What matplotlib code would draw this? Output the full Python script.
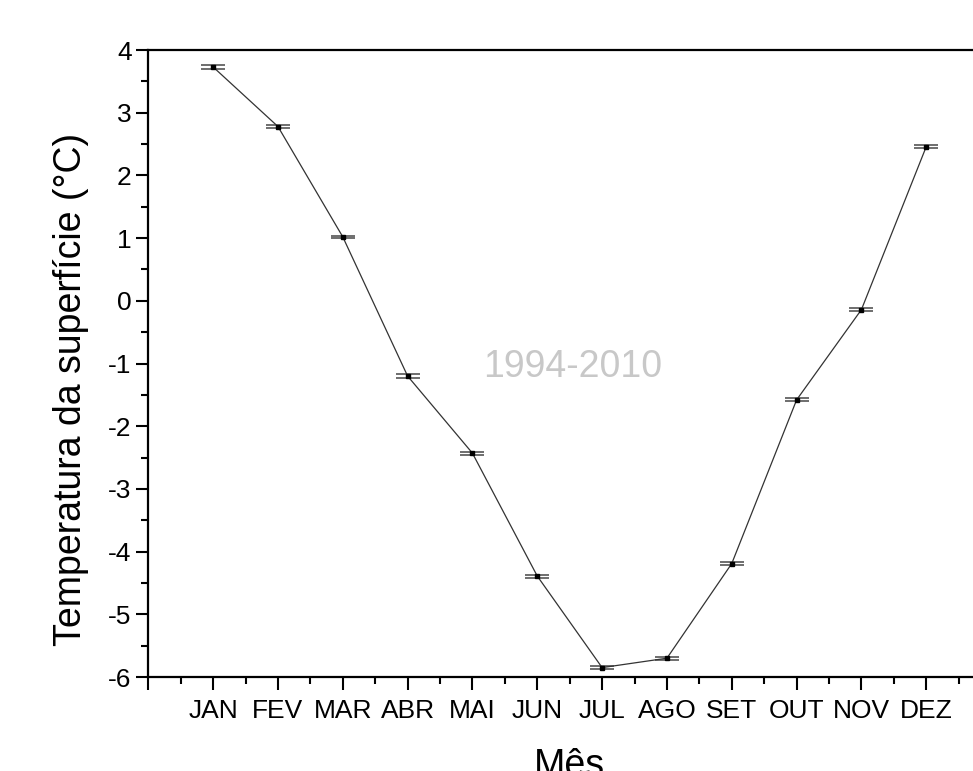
import matplotlib
matplotlib.use("Agg")
import matplotlib.pyplot as plt
from matplotlib.ticker import MultipleLocator

plt.rcParams['font.family'] = ['Liberation Sans', 'DejaVu Sans']
plt.rcParams['axes.unicode_minus'] = False

# Temperatura média mensal da superfície (1994-2010)
meses = ['JAN', 'FEV', 'MAR', 'ABR', 'MAI', 'JUN', 'JUL', 'AGO', 'SET', 'OUT', 'NOV', 'DEZ']
posicoes = [1, 2, 3, 4, 5, 6, 7, 8, 9, 10, 11, 12]
temperatura = [3.73, 2.78, 1.02, -1.20, -2.43, -4.39, -5.85, -5.70, -4.19, -1.58, -0.14, 2.46]
erro = [0.025, 0.025, 0.02, 0.025, 0.025, 0.025, 0.025, 0.025, 0.025, 0.025, 0.025, 0.025]

fig = plt.figure(figsize=(9.73, 7.71), dpi=100)
ax = fig.add_axes([0.1524, 0.1219, 0.8662, 0.8132])

ax.errorbar(posicoes, temperatura, yerr=erro, fmt='none', ecolor='#555555',
            elinewidth=0.8, capsize=8.5, capthick=1.2, zorder=2)
ax.plot(posicoes, temperatura, color='#333333', linewidth=0.9, zorder=3)
ax.plot(posicoes, temperatura, 's', color='black', markersize=2.5, zorder=4)

ax.set_xlim(0, 13)
ax.set_ylim(-6, 4)
ax.set_xticks(range(0, 14))
ax.set_xticklabels([''] + meses + [''])
ax.xaxis.set_minor_locator(MultipleLocator(0.5))
ax.yaxis.set_major_locator(MultipleLocator(1))
ax.yaxis.set_minor_locator(MultipleLocator(0.5))

ax.tick_params(which='major', direction='out', length=9, width=1.5, labelsize=19, pad=7)
ax.tick_params(which='minor', direction='out', length=5, width=1.5)
ax.tick_params(axis='y', which='major', pad=3)
for s in ax.spines.values():
    s.set_linewidth(1.6)

ax.text(6.55, -1.05, '1994-2010', fontsize=27, color='#c8c8c8', ha='center', va='center')

ax.set_ylabel('Temperatura da superfície (°C)', fontsize=27)
ax.yaxis.set_label_coords(-0.07, 0.458)
ax.set_xlabel('Mês', fontsize=27)
ax.xaxis.set_label_coords(0.5, -0.113)

fig.savefig('out.png', dpi=100)
